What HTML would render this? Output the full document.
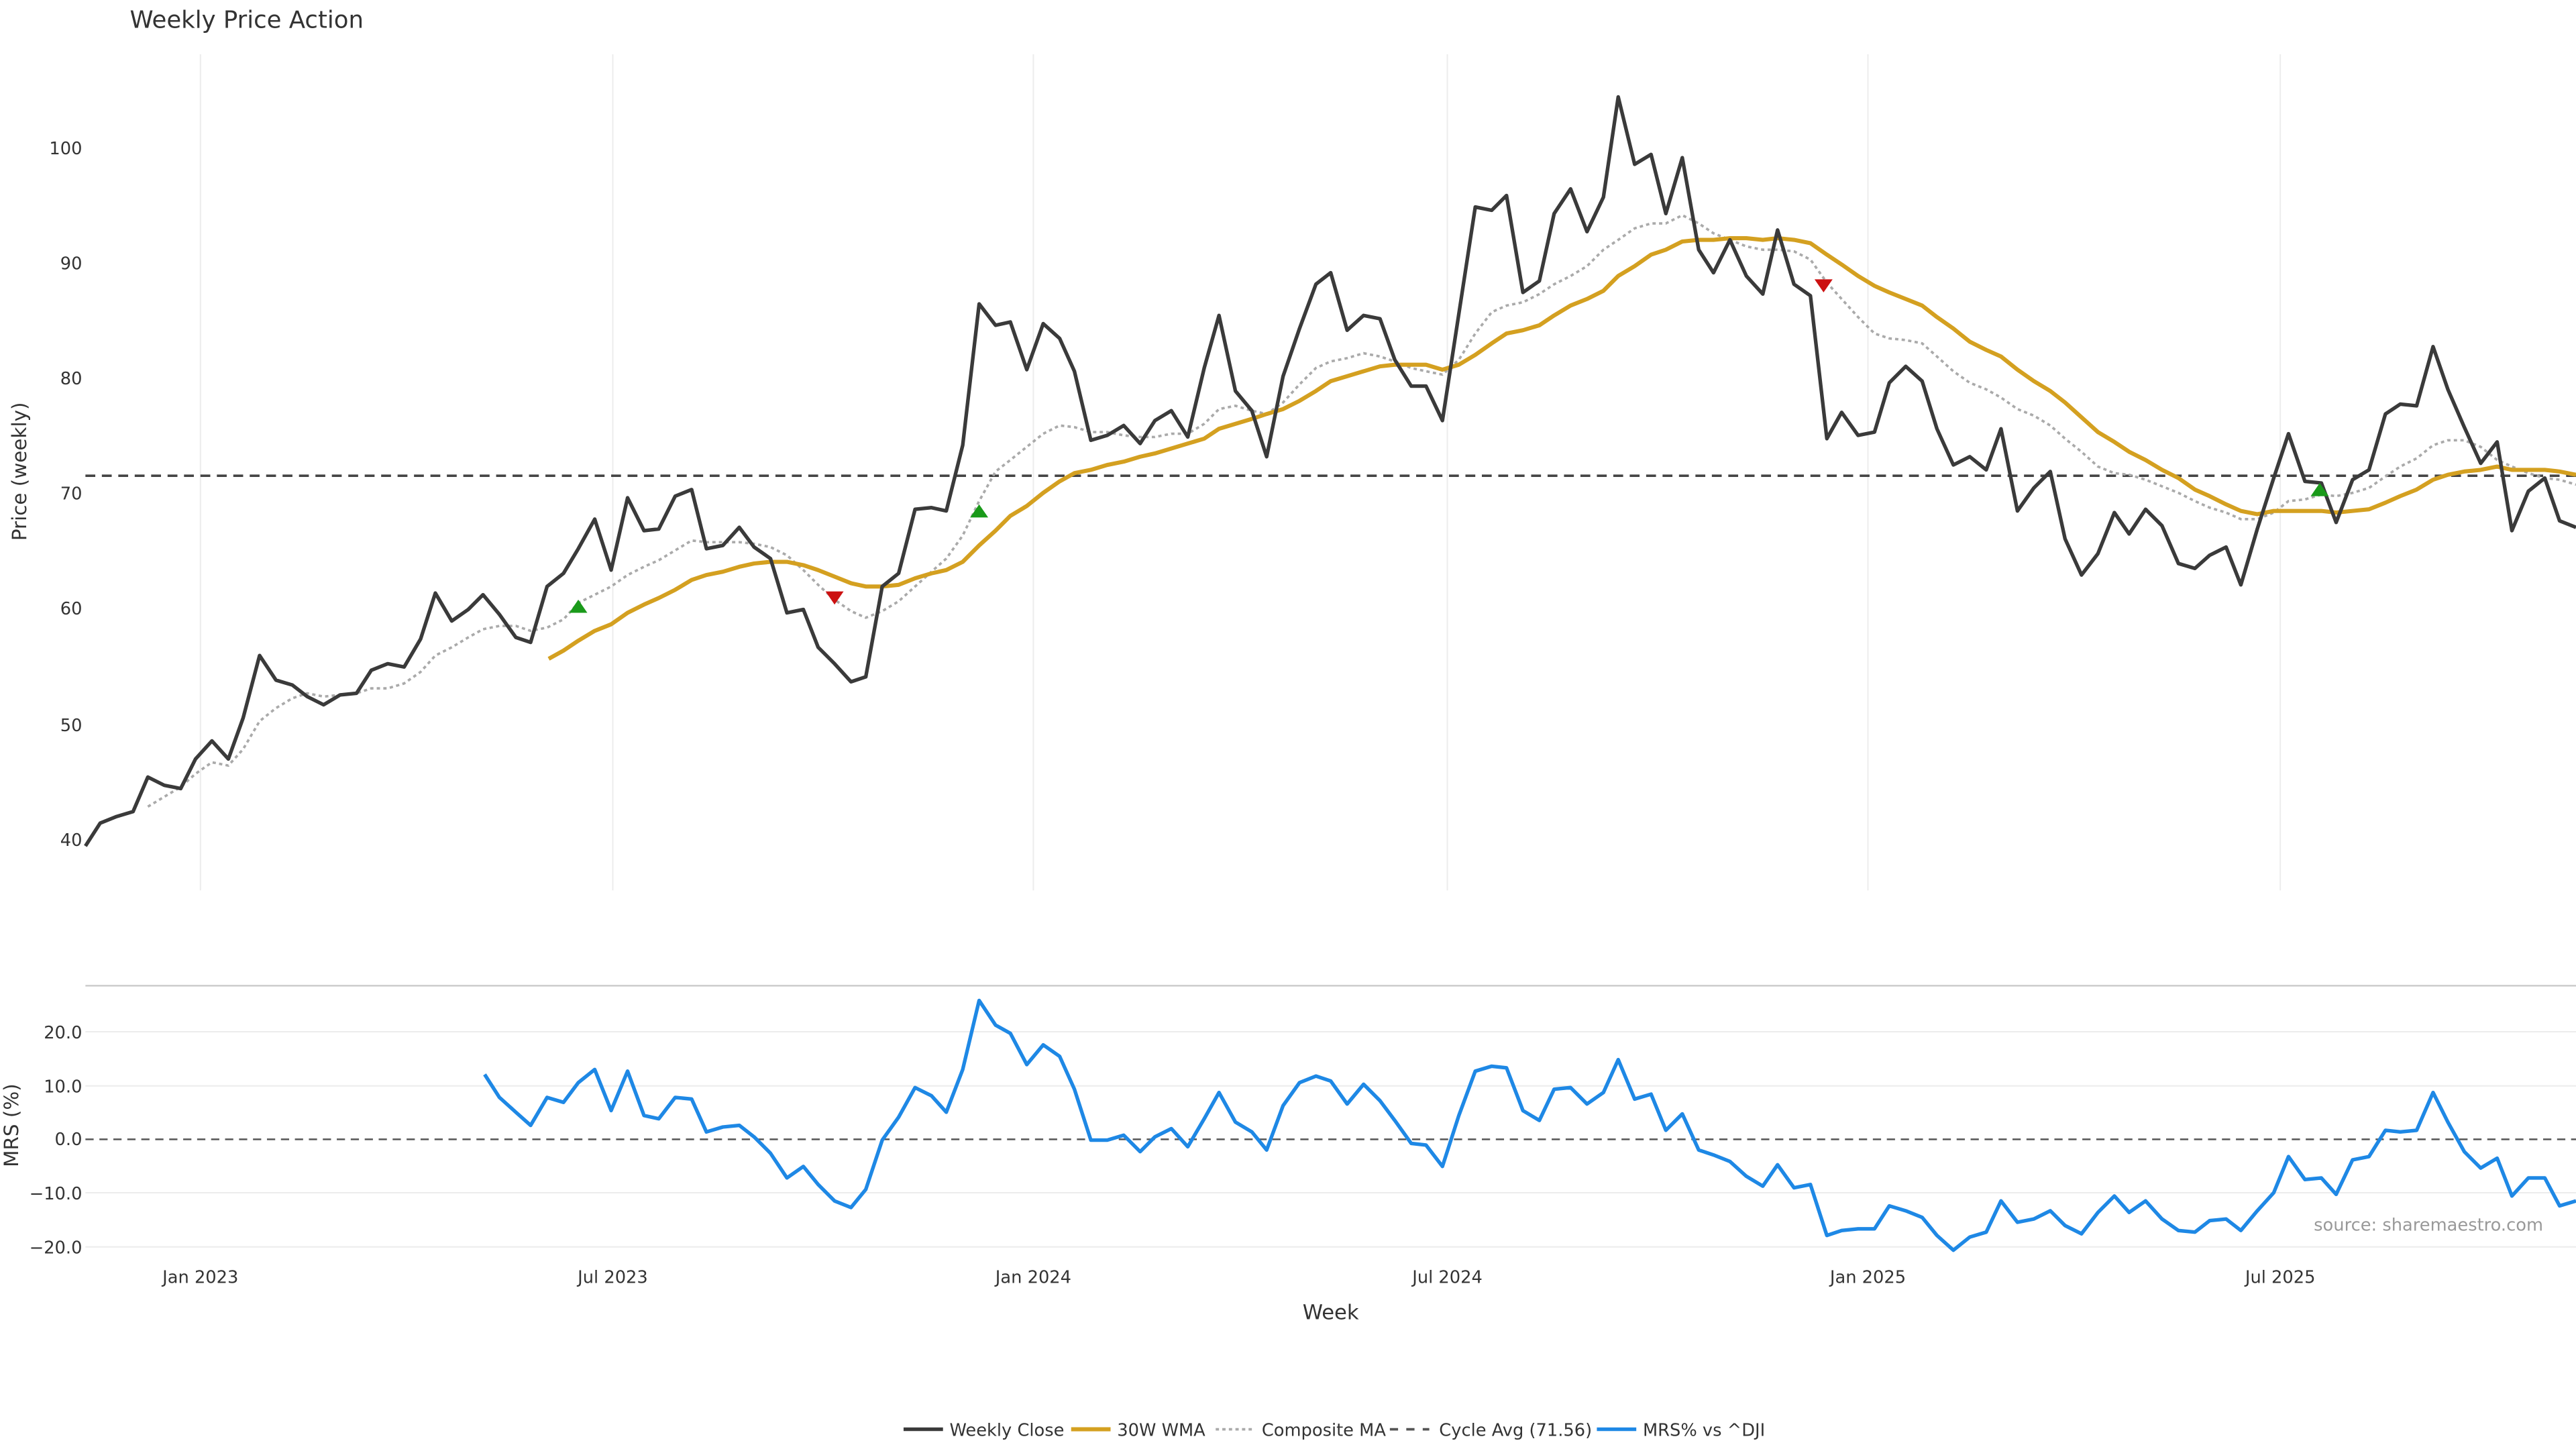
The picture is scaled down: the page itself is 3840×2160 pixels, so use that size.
<!DOCTYPE html>
<html><head><meta charset="utf-8"><style>html,body{margin:0;padding:0;background:#fff}svg{display:block}text{font-family:"DejaVu Sans","Liberation Sans",sans-serif;fill:#333}</style></head><body>
<svg width="3840" height="2160" viewBox="0 0 1568 882" xmlns="http://www.w3.org/2000/svg">
<rect width="1568" height="882" fill="#fff"/>
<text x="79" y="17" font-size="14.5" fill="#333">Weekly Price Action</text>
<g stroke="#ececec" stroke-width="0.8">
<line x1="122" y1="33" x2="122" y2="542"/><line x1="373" y1="33" x2="373" y2="542"/><line x1="629" y1="33" x2="629" y2="542"/><line x1="881" y1="33" x2="881" y2="542"/><line x1="1137" y1="33" x2="1137" y2="542"/><line x1="1388" y1="33" x2="1388" y2="542"/>
<line x1="52" y1="628" x2="1568" y2="628"/><line x1="52" y1="661" x2="1568" y2="661"/><line x1="52" y1="726" x2="1568" y2="726"/><line x1="52" y1="759" x2="1568" y2="759"/>
</g>
<line x1="52" y1="600" x2="1568" y2="600" stroke="#ccc" stroke-width="1"/>
<g font-size="10.5" text-anchor="end">
<text x="50" y="94">100</text><text x="50" y="164">90</text><text x="50" y="234">80</text><text x="50" y="304">70</text><text x="50" y="374">60</text><text x="50" y="445">50</text><text x="50" y="515">40</text>
<text x="50" y="632">20.0</text><text x="50" y="665">10.0</text><text x="50" y="697">0.0</text><text x="50" y="730">−10.0</text><text x="50" y="763">−20.0</text>
</g>
<g font-size="10.5" text-anchor="middle">
<text x="122" y="781">Jan 2023</text><text x="373" y="781">Jul 2023</text><text x="629" y="781">Jan 2024</text><text x="881" y="781">Jul 2024</text><text x="1137" y="781">Jan 2025</text><text x="1388" y="781">Jul 2025</text>
<text x="810" y="803" font-size="12.5">Week</text>
</g>
<text transform="translate(16,287) rotate(-90)" font-size="12" text-anchor="middle">Price (weekly)</text>
<text transform="translate(11,685) rotate(-90)" font-size="12" text-anchor="middle">MRS (%)</text>
<text x="1548" y="749" font-size="10.5" text-anchor="end" fill="#999" style="fill:#999">source: sharemaestro.com</text>
<line x1="52" y1="289.6" x2="1568" y2="289.6" stroke="#444" stroke-width="1.5" stroke-dasharray="6,4"/>
<line x1="52" y1="693.5" x2="1568" y2="693.5" stroke="#555" stroke-width="1" stroke-dasharray="5,3.5"/>
<polyline fill="none" stroke="#aaa" stroke-width="1.5" stroke-dasharray="2,2" points="90,491 100,485 110,479 119,471 129,464 139,466 148,456 158,439 168,431 178,425 187,422 197,424 207,423 217,422 226,419 236,419 246,416 256,409 265,399 275,394 285,388 294,383 304,381 314,381 323,384 333,382 343,377 352,367 362,362 372,357 382,350 392,345 401,341 411,335 421,329 430,330 440,330 450,330 459,331 469,333 479,338 489,347 498,356 508,365 518,372 527,376 537,372 547,366 557,357 567,348 576,340 586,326 596,305 606,287 615,280 625,272 635,264 645,259 654,260 664,263 674,263 684,265 694,266 703,266 713,264 723,264 733,258 742,249 752,247 762,250 771,252 781,245 791,234 801,224 810,220 820,218 830,215 840,217 849,220 859,224 868,226 878,228 888,219 898,203 908,190 917,186 927,184 937,179 946,173 956,168 966,162 976,152 985,146 995,139 1005,136 1014,136 1024,131 1034,136 1043,142 1053,146 1063,150 1073,152 1082,152 1092,153 1102,158 1112,172 1121,182 1131,193 1141,203 1150,206 1160,207 1170,209 1179,217 1189,226 1199,233 1209,237 1218,242 1228,249 1238,253 1248,259 1257,267 1267,275 1277,284 1287,288 1296,289 1306,292 1316,296 1326,300 1336,305 1345,309 1355,312 1364,316 1374,316 1384,312 1393,305 1403,304 1413,301 1422,302 1432,300 1442,297 1452,290 1461,284 1471,279 1481,271 1490,268 1500,268 1510,272 1520,280 1529,284 1539,288 1549,291 1558,292 1568,295"/>
<polyline fill="none" stroke="#d4a020" stroke-width="2.5" stroke-linejoin="round" points="334,401 343,396 352,390 362,384 372,380 382,373 392,368 401,364 411,359 421,353 430,350 440,348 450,345 459,343 469,342 479,342 489,344 498,347 508,351 518,355 527,357 537,357 547,356 557,352 567,349 576,347 586,342 596,332 606,323 615,314 625,308 635,300 645,293 654,288 664,286 674,283 684,281 694,278 703,276 713,273 723,270 733,267 742,261 752,258 762,255 771,252 781,249 791,244 801,238 810,232 820,229 830,226 840,223 849,222 859,222 868,222 878,225 888,222 898,216 908,209 917,203 927,201 937,198 946,192 956,186 966,182 976,177 985,168 995,162 1005,155 1014,152 1024,147 1034,146 1043,146 1053,145 1063,145 1073,146 1082,145 1092,146 1102,148 1112,155 1121,161 1131,168 1141,174 1150,178 1160,182 1170,186 1179,193 1189,200 1199,208 1209,213 1218,217 1228,225 1238,232 1248,238 1257,245 1267,254 1277,263 1287,269 1296,275 1306,280 1316,286 1326,291 1336,298 1345,302 1355,307 1364,311 1374,313 1384,311 1393,311 1403,311 1413,311 1422,312 1432,311 1442,310 1452,306 1461,302 1471,298 1481,292 1490,289 1500,287 1510,286 1520,284 1529,286 1539,286 1549,286 1558,287 1568,289"/>
<polyline fill="none" stroke="#3a3a3a" stroke-width="2.2" stroke-linejoin="round" points="52,515 61,501 71,497 81,494 90,473 100,478 110,480 119,462 129,451 139,462 148,437 158,399 168,414 178,417 187,424 197,429 207,423 217,422 226,408 236,404 246,406 256,389 265,361 275,378 285,371 294,362 304,374 314,388 323,391 333,357 343,349 352,334 362,316 372,347 382,303 392,323 401,322 411,302 421,298 430,334 440,332 450,321 459,333 469,340 479,373 489,371 498,394 508,404 518,415 527,412 537,357 547,349 557,310 567,309 576,311 586,271 596,185 606,198 615,196 625,225 635,197 645,206 654,226 664,268 674,265 684,259 694,270 703,256 713,250 723,266 733,224 742,192 752,238 762,250 771,278 781,229 791,200 801,173 810,166 820,201 830,192 840,194 849,219 859,235 868,235 878,256 888,191 898,126 908,128 917,119 927,178 937,171 946,130 956,115 966,141 976,120 985,59 995,100 1005,94 1014,130 1024,96 1034,152 1043,166 1053,146 1063,168 1073,179 1082,140 1092,173 1102,180 1112,267 1121,251 1131,265 1141,263 1150,233 1160,223 1170,232 1179,261 1189,283 1199,278 1209,286 1218,261 1228,311 1238,297 1248,287 1257,328 1267,350 1277,337 1287,312 1296,325 1306,310 1316,320 1326,343 1336,346 1345,338 1355,333 1364,356 1374,322 1384,291 1393,264 1403,293 1413,294 1422,318 1432,292 1442,286 1452,252 1461,246 1471,247 1481,211 1490,237 1500,260 1510,282 1520,269 1529,323 1539,299 1549,291 1558,317 1568,321"/>
<g fill="#1a9a1a"><polygon points="352,365 346.5,373 357.5,373"/><polygon points="596,307 590.5,315 601.5,315"/><polygon points="1412,294 1406.5,302 1417.5,302"/></g>
<g fill="#cc1111"><polygon points="508,368 502.5,360 513.5,360"/><polygon points="1110,178 1104.5,170 1115.5,170"/></g>
<polyline fill="none" stroke="#1e88e5" stroke-width="2.2" stroke-linejoin="round" points="295,654 304,668 314,677 323,685 333,668 343,671 352,659 362,651 372,676 382,652 392,679 401,681 411,668 421,669 430,689 440,686 450,685 459,692 469,702 479,717 489,710 498,721 508,731 518,735 527,724 537,694 547,680 557,662 567,667 576,677 586,651 596,609 606,624 615,629 625,648 635,636 645,643 654,663 664,694 674,694 684,691 694,701 703,692 713,687 723,698 733,681 742,665 752,683 762,689 771,700 781,673 791,659 801,655 810,658 820,672 830,660 840,670 849,682 859,696 868,697 878,710 888,679 898,652 908,649 917,650 927,676 937,682 946,663 956,662 966,672 976,665 985,645 995,669 1005,666 1014,688 1024,678 1034,700 1043,703 1053,707 1063,716 1073,722 1082,709 1092,723 1102,721 1112,752 1121,749 1131,748 1141,748 1150,734 1160,737 1170,741 1179,752 1189,761 1199,753 1209,750 1218,731 1228,744 1238,742 1248,737 1257,746 1267,751 1277,738 1287,728 1296,738 1306,731 1316,742 1326,749 1336,750 1345,743 1355,742 1364,749 1374,737 1384,726 1393,704 1403,718 1413,717 1422,727 1432,706 1442,704 1452,688 1461,689 1471,688 1481,665 1490,683 1500,701 1510,711 1520,705 1529,728 1539,717 1549,717 1558,734 1568,731"/>
<g font-size="10.5">
<line x1="550" y1="870" x2="574" y2="870" stroke="#3a3a3a" stroke-width="2.2"/><text x="578" y="874">Weekly Close</text>
<line x1="652" y1="870" x2="676" y2="870" stroke="#d4a020" stroke-width="2.5"/><text x="680" y="874">30W WMA</text>
<line x1="740" y1="870" x2="764" y2="870" stroke="#aaa" stroke-width="1.5" stroke-dasharray="2,2"/><text x="768" y="874">Composite MA</text>
<line x1="846" y1="870" x2="870" y2="870" stroke="#555" stroke-width="1.5" stroke-dasharray="5,5"/><text x="876" y="874">Cycle Avg (71.56)</text>
<line x1="972" y1="870" x2="996" y2="870" stroke="#1e88e5" stroke-width="2.2"/><text x="1000" y="874">MRS% vs ^DJI</text>
</g>
</svg>
</body></html>
